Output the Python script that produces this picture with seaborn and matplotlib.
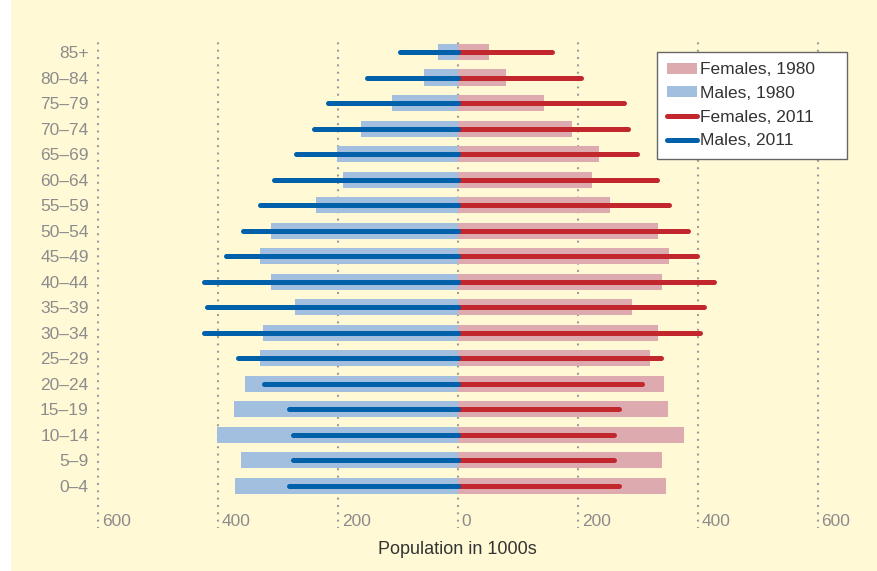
import matplotlib
matplotlib.use("Agg")
import matplotlib.pyplot as plt
import matplotlib.transforms as mtransforms
from matplotlib.patches import Patch, Rectangle
from matplotlib.lines import Line2D
import seaborn as sns
import numpy as np

# age groups, top to bottom
ages = ["85+", "80–84", "75–79", "70–74", "65–69", "60–64", "55–59", "50–54",
        "45–49", "40–44", "35–39", "30–34", "25–29", "20–24", "15–19", "10–14",
        "5–9", "0–4"]

# population in 1000s
females_1980 = [52, 81, 144, 191, 236, 224, 254, 334, 352, 341, 291, 334,
                321, 344, 351, 377, 341, 347]
males_1980 = [33, 56, 109, 162, 202, 191, 236, 311, 329, 311, 272, 324,
              329, 354, 374, 402, 362, 371]
females_2011 = [158, 206, 278, 284, 299, 333, 353, 384, 399, 428, 411, 404,
                339, 308, 269, 261, 261, 269]
males_2011 = [96, 151, 216, 239, 269, 306, 329, 359, 386, 424, 419, 423,
              366, 323, 282, 274, 274, 282]

xticks = [-600, -400, -200, 0, 200, 400, 600]
xtick_labels = ["600", "400", "200", "0", "200", "400", "600"]

CREAM = "#FFF9D6"
PINK = "#DDABAF"
LIGHTBLUE = "#A3BFE0"
RED = "#C1272D"
BLUE = "#0061AA"
GRAY = "#8c8c8c"

sns.set_style("white")
plt.rcParams["font.family"] = ["Liberation Sans", "DejaVu Sans"]

fig = plt.figure(figsize=(8.77, 5.71), dpi=100, facecolor=CREAM)
fig.patches.append(Rectangle((0, 0), 11 / 877, 1, transform=fig.transFigure,
                             facecolor="white", edgecolor="none", zorder=-1))
ax = fig.add_axes([95 / 877, 43 / 571, 746.5 / 877, 488 / 571])
ax.set_facecolor(CREAM)

sns.barplot(x=[-v for v in males_1980], y=ages, color=LIGHTBLUE, saturation=1,
            width=0.63, linewidth=0, orient="h", ax=ax, zorder=2)
sns.barplot(x=females_1980, y=ages, color=PINK, saturation=1,
            width=0.63, linewidth=0, orient="h", ax=ax, zorder=2)

ypos = np.arange(len(ages))
ax.hlines(ypos, 0, females_2011, colors=RED, linewidth=3.6,
          capstyle="round", zorder=3)
ax.hlines(ypos, 0, [-v for v in males_2011], colors=BLUE, linewidth=3.6,
          capstyle="round", zorder=4)

ax.set_xlim(-605, 640)
ax.set_ylim(18.65, -0.47)

for s in ax.spines.values():
    s.set_visible(False)

# dotted vertical guides
ax.set_xticks(xticks, xtick_labels)
ax.xaxis.grid(True, color="#999999", linestyle=(0, (0.01, 3.1)),
              linewidth=1.7, dash_capstyle="round", zorder=0)
ax.set_axisbelow(True)

ax.tick_params(axis="x", length=0, pad=-10, labelsize=12.5, labelcolor=GRAY)
ax.tick_params(axis="y", length=0, pad=4.5, labelsize=12.5, labelcolor=GRAY)
offset = mtransforms.ScaledTranslation(4 / 100, 0, fig.dpi_scale_trans)
for lab in ax.get_xticklabels():
    lab.set_horizontalalignment("left")
    lab.set_transform(lab.get_transform() + offset)

ax.set_ylabel("")
ax.set_xlabel("Population in 1000s", fontsize=13, color="#333333")
ax.xaxis.set_label_coords((457.5 - 95) / 746.5, -0.027)

handles = [
    Patch(facecolor=PINK, edgecolor="none", label="Females, 1980"),
    Patch(facecolor=LIGHTBLUE, edgecolor="none", label="Males, 1980"),
    Line2D([0], [0], color=RED, lw=3.6, solid_capstyle="round", label="Females, 2011"),
    Line2D([0], [0], color=BLUE, lw=3.6, solid_capstyle="round", label="Males, 2011"),
]
leg = ax.legend(handles=handles, loc="upper left", mode="expand",
                bbox_to_anchor=(657 / 877, 1 - 153 / 571, 190 / 877, 101 / 571),
                bbox_transform=fig.transFigure, borderaxespad=0,
                fontsize=12.5, frameon=True, fancybox=False, framealpha=1,
                handlelength=1.7, handleheight=0.6, handletextpad=0.2,
                labelspacing=0.5, borderpad=0.6)
leg.get_frame().set_edgecolor("#666666")
leg.get_frame().set_linewidth(1)
for t in leg.get_texts():
    t.set_color("#333333")

fig.savefig("out.png", dpi=100, facecolor=CREAM)
